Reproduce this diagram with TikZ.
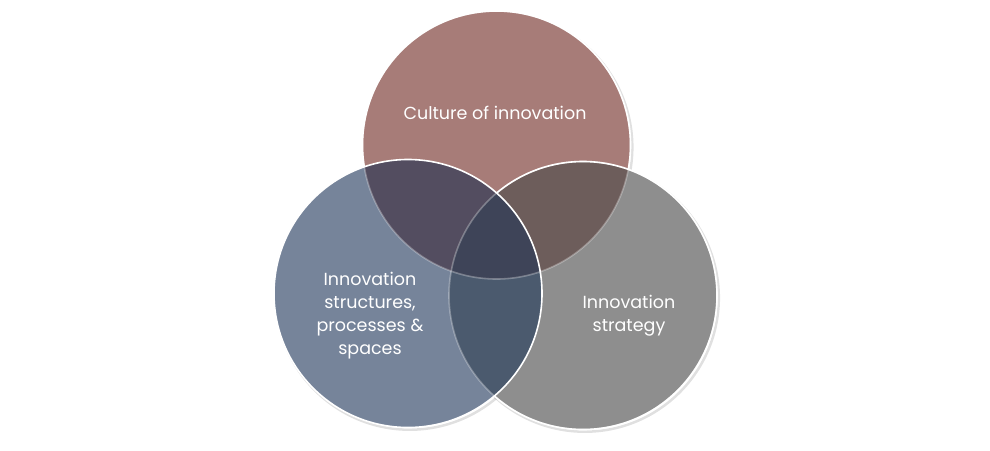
\documentclass[tikz,border=0pt]{standalone}
\usepackage{fontspec}
\setmainfont{Poppins}
\definecolor{ctop}{HTML}{A77C78}
\definecolor{cleft}{HTML}{76849A}
\definecolor{cright}{HTML}{8E8E8E}
\definecolor{ctl}{HTML}{534D60}
\definecolor{ctr}{HTML}{6D5D5B}
\definecolor{clr}{HTML}{4B5A6E}
\definecolor{call}{HTML}{3E4458}
\begin{document}
\begin{tikzpicture}[x=1pt,y=-1pt,
  lbl/.style={text=white,font=\fontsize{17.5}{23}\selectfont,align=center,inner sep=0pt},
  rim/.style={draw=white,line width=1.6pt},
  shade/.style={draw=black,opacity=0.12,line width=2.5pt}]
\useasboundingbox[fill=white] (0,0) rectangle (990,450);
\coordinate (T) at (496.5,145);
\coordinate (L) at (408,293.5);
\coordinate (R) at (583,295.5);
\def\rr{134}
% shadows
\draw[shade] ([shift={(1.8,2.2)}]T) circle (\rr);
\draw[shade] ([shift={(1.8,2.2)}]L) circle (\rr);
\draw[shade] ([shift={(1.8,2.2)}]R) circle (\rr);
% base fills
\fill[ctop] (T) circle (\rr);
\fill[cright] (R) circle (\rr);
\fill[cleft] (L) circle (\rr);
\begin{scope}\clip (T) circle (\rr); \fill[ctl] (L) circle (\rr); \end{scope}
\begin{scope}\clip (T) circle (\rr); \fill[ctr] (R) circle (\rr); \end{scope}
\begin{scope}\clip (L) circle (\rr); \fill[clr] (R) circle (\rr); \end{scope}
\begin{scope}\clip (L) circle (\rr); \clip (R) circle (\rr); \fill[call] (T) circle (\rr); \end{scope}
% outlines
\draw[rim,draw opacity=0.3] (T) circle (\rr);
\draw[rim,draw opacity=0.3] (R) circle (\rr);
\begin{scope}[even odd rule]
  \clip (-10,-10) rectangle (1000,460) (L) circle (\rr);
  \draw[rim] (R) circle (\rr);
  \clip (-10,-10) rectangle (1000,460) (R) circle (\rr);
  \draw[rim] (T) circle (\rr);
\end{scope}
\draw[rim] (L) circle (\rr);
% labels
\node[lbl] (tt) at (495,113) {Culture of innovation};
\node[lbl] (lt) at (370,316) {Innovation\\structures,\\processes \&\\spaces};
\node[lbl] (rt) at (629,316) {Innovation\\strategy};
\end{tikzpicture}
\end{document}
